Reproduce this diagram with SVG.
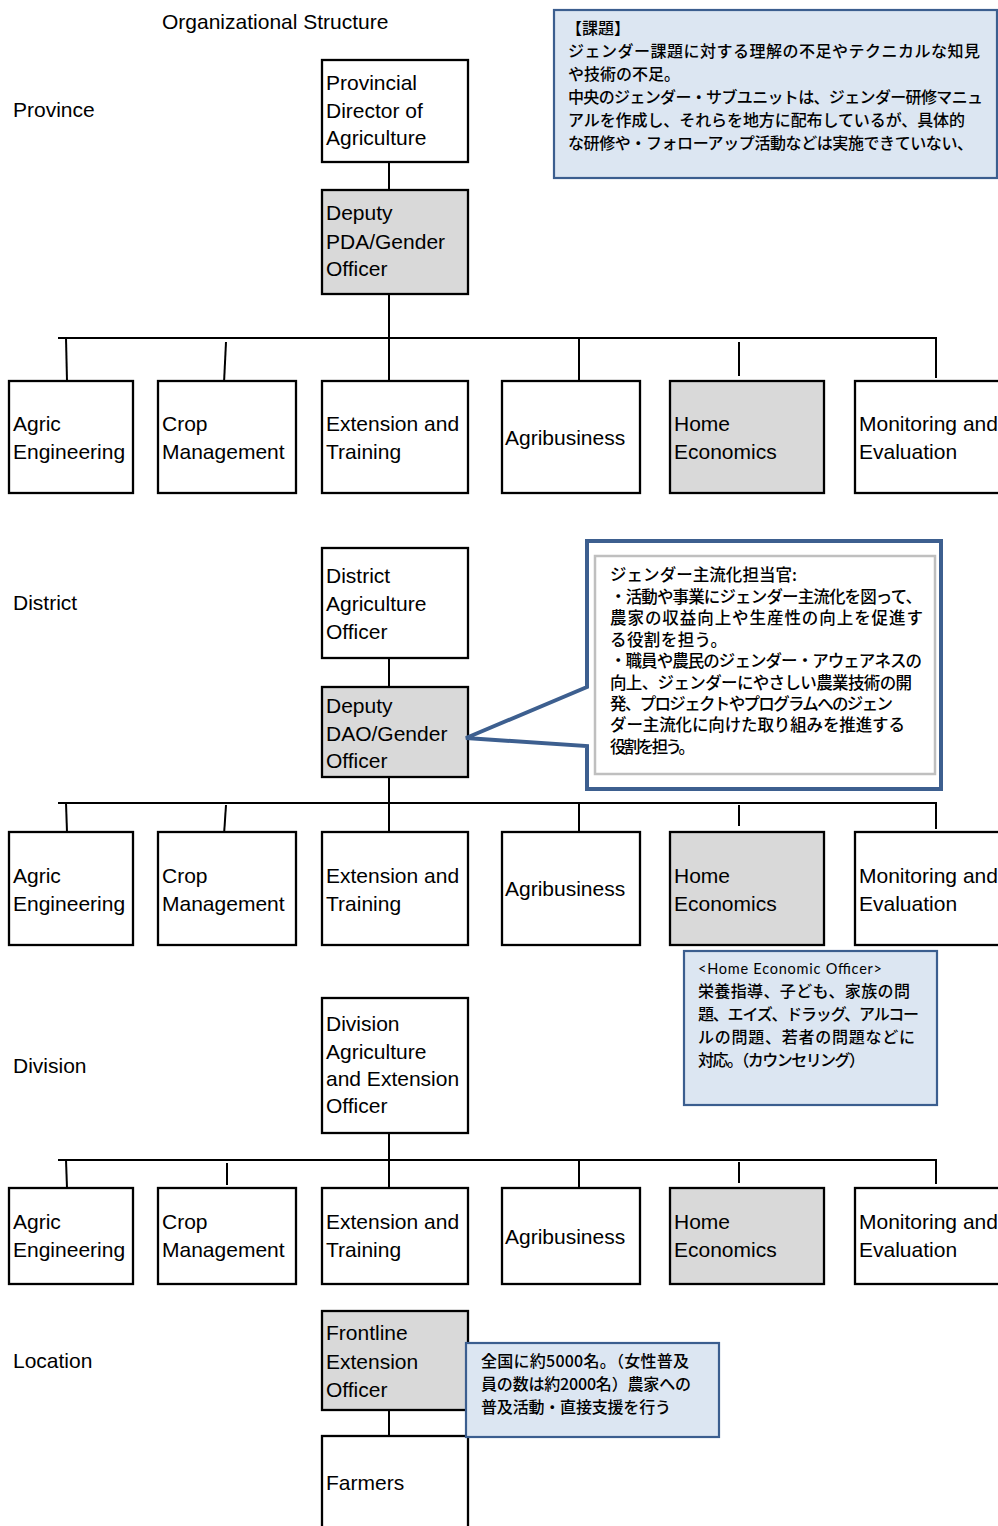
<svg xmlns="http://www.w3.org/2000/svg" width="998" height="1526" viewBox="0 0 998 1526">
<style>
.bg{fill:#fff}
.box{fill:#fff;stroke:#000;stroke-width:2.3}
.gray{fill:#d9d9d9}
.conn line{stroke:#000;stroke-width:2}
.lbl{font-family:"Liberation Sans",Arial,sans-serif;font-size:21px;fill:#000}
.jp{font-family:"Noto Sans CJK JP",sans-serif;font-size:16px;font-weight:500;fill:#000}
.jp2{font-family:"Noto Sans CJK JP",sans-serif;font-size:16.5px;font-weight:500;fill:#000}
.lat{font-family:Lato,"Open Sans",sans-serif;font-size:14.5px;fill:#000}
.note{fill:#dce6f2;stroke:#3b5e8f;stroke-width:2.2}
</style>
<rect class="bg" x="0" y="0" width="998" height="1526"/>

<text class="lbl" x="162" y="29">Organizational Structure</text>
<text class="lbl" x="13" y="117">Province</text>
<text class="lbl" x="13" y="610">District</text>
<text class="lbl" x="13" y="1073">Division</text>
<text class="lbl" x="13" y="1368">Location</text>

<g id="connectors" class="conn">
  <line x1="389" y1="162" x2="389" y2="190"/>
  <line x1="389" y1="294" x2="389" y2="381"/>
  <line x1="58" y1="338" x2="937" y2="338"/>
  <line x1="66" y1="338" x2="67" y2="381"/>
  <line x1="226" y1="342" x2="224" y2="383"/>
  <line x1="579" y1="338" x2="579" y2="383"/>
  <line x1="739" y1="342" x2="739" y2="376"/>
  <line x1="936" y1="338" x2="936" y2="378"/>

  <line x1="389" y1="658" x2="389" y2="687"/>
  <line x1="389" y1="777" x2="389" y2="832"/>
  <line x1="58" y1="803" x2="937" y2="803"/>
  <line x1="66" y1="803" x2="67" y2="832"/>
  <line x1="226" y1="805" x2="224" y2="835"/>
  <line x1="579" y1="803" x2="579" y2="834"/>
  <line x1="739" y1="805" x2="739" y2="826"/>
  <line x1="936" y1="803" x2="936" y2="829"/>

  <line x1="389" y1="1133" x2="389" y2="1188"/>
  <line x1="58" y1="1160" x2="937" y2="1160"/>
  <line x1="66" y1="1160" x2="67" y2="1188"/>
  <line x1="227" y1="1163" x2="227" y2="1185"/>
  <line x1="579" y1="1160" x2="579" y2="1190"/>
  <line x1="739" y1="1162" x2="739" y2="1183"/>
  <line x1="936" y1="1160" x2="936" y2="1184"/>

  <line x1="389" y1="1410" x2="389" y2="1436"/>
</g>

<!-- Province -->
<g id="pda">
  <rect class="box" x="322" y="60" width="146" height="102"/>
  <text class="lbl" x="326" y="90">Provincial</text>
  <text class="lbl" x="326" y="118">Director of</text>
  <text class="lbl" x="326" y="145">Agriculture</text>
</g>
<g id="deputy-pda">
  <rect class="box gray" x="322" y="190" width="146" height="104"/>
  <text class="lbl" x="326" y="220">Deputy</text>
  <text class="lbl" x="326" y="249">PDA/Gender</text>
  <text class="lbl" x="326" y="276">Officer</text>
</g>
<g id="p-agric">
  <rect class="box" x="9" y="381" width="124" height="112"/>
  <text class="lbl" x="13" y="431">Agric</text>
  <text class="lbl" x="13" y="459">Engineering</text>
</g>
<g id="p-crop">
  <rect class="box" x="158" y="381" width="138" height="112"/>
  <text class="lbl" x="162" y="431">Crop</text>
  <text class="lbl" x="162" y="459">Management</text>
</g>
<g id="p-ext">
  <rect class="box" x="322" y="381" width="146" height="112"/>
  <text class="lbl" x="326" y="431">Extension and</text>
  <text class="lbl" x="326" y="459">Training</text>
</g>
<g id="p-agribiz">
  <rect class="box" x="502" y="381" width="138" height="112"/>
  <text class="lbl" x="505" y="445">Agribusiness</text>
</g>
<g id="p-home">
  <rect class="box gray" x="670" y="381" width="154" height="112"/>
  <text class="lbl" x="674" y="431">Home</text>
  <text class="lbl" x="674" y="459">Economics</text>
</g>
<g id="p-me">
  <rect class="box" x="855" y="381" width="160" height="112"/>
  <text class="lbl" x="859" y="431">Monitoring and</text>
  <text class="lbl" x="859" y="459">Evaluation</text>
</g>

<!-- District -->
<g id="dao">
  <rect class="box" x="322" y="548" width="146" height="110"/>
  <text class="lbl" x="326" y="583">District</text>
  <text class="lbl" x="326" y="611">Agriculture</text>
  <text class="lbl" x="326" y="639">Officer</text>
</g>
<g id="deputy-dao">
  <rect class="box gray" x="322" y="687" width="146" height="90"/>
  <text class="lbl" x="326" y="713">Deputy</text>
  <text class="lbl" x="326" y="741">DAO/Gender</text>
  <text class="lbl" x="326" y="768">Officer</text>
</g>
<g id="d-agric">
  <rect class="box" x="9" y="832" width="124" height="113"/>
  <text class="lbl" x="13" y="883">Agric</text>
  <text class="lbl" x="13" y="911">Engineering</text>
</g>
<g id="d-crop">
  <rect class="box" x="158" y="832" width="138" height="113"/>
  <text class="lbl" x="162" y="883">Crop</text>
  <text class="lbl" x="162" y="911">Management</text>
</g>
<g id="d-ext">
  <rect class="box" x="322" y="832" width="146" height="113"/>
  <text class="lbl" x="326" y="883">Extension and</text>
  <text class="lbl" x="326" y="911">Training</text>
</g>
<g id="d-agribiz">
  <rect class="box" x="502" y="832" width="138" height="113"/>
  <text class="lbl" x="505" y="896">Agribusiness</text>
</g>
<g id="d-home">
  <rect class="box gray" x="670" y="832" width="154" height="113"/>
  <text class="lbl" x="674" y="883">Home</text>
  <text class="lbl" x="674" y="911">Economics</text>
</g>
<g id="d-me">
  <rect class="box" x="855" y="832" width="160" height="113"/>
  <text class="lbl" x="859" y="883">Monitoring and</text>
  <text class="lbl" x="859" y="911">Evaluation</text>
</g>

<!-- Division -->
<g id="daeo">
  <rect class="box" x="322" y="998" width="146" height="135"/>
  <text class="lbl" x="326" y="1031">Division</text>
  <text class="lbl" x="326" y="1059">Agriculture</text>
  <text class="lbl" x="326" y="1086">and Extension</text>
  <text class="lbl" x="326" y="1113">Officer</text>
</g>
<g id="v-agric">
  <rect class="box" x="9" y="1188" width="124" height="96"/>
  <text class="lbl" x="13" y="1229">Agric</text>
  <text class="lbl" x="13" y="1257">Engineering</text>
</g>
<g id="v-crop">
  <rect class="box" x="158" y="1188" width="138" height="96"/>
  <text class="lbl" x="162" y="1229">Crop</text>
  <text class="lbl" x="162" y="1257">Management</text>
</g>
<g id="v-ext">
  <rect class="box" x="322" y="1188" width="146" height="96"/>
  <text class="lbl" x="326" y="1229">Extension and</text>
  <text class="lbl" x="326" y="1257">Training</text>
</g>
<g id="v-agribiz">
  <rect class="box" x="502" y="1188" width="138" height="96"/>
  <text class="lbl" x="505" y="1244">Agribusiness</text>
</g>
<g id="v-home">
  <rect class="box gray" x="670" y="1188" width="154" height="96"/>
  <text class="lbl" x="674" y="1229">Home</text>
  <text class="lbl" x="674" y="1257">Economics</text>
</g>
<g id="v-me">
  <rect class="box" x="855" y="1188" width="160" height="96"/>
  <text class="lbl" x="859" y="1229">Monitoring and</text>
  <text class="lbl" x="859" y="1257">Evaluation</text>
</g>

<!-- Location -->
<g id="feo">
  <rect class="box gray" x="322" y="1311" width="146" height="99"/>
  <text class="lbl" x="326" y="1340">Frontline</text>
  <text class="lbl" x="326" y="1369">Extension</text>
  <text class="lbl" x="326" y="1397">Officer</text>
</g>
<g id="farmers">
  <rect class="box" x="322" y="1436" width="146" height="110"/>
  <text class="lbl" x="326" y="1490">Farmers</text>
</g>

<!-- Notes -->
<g id="note-issues">
  <rect class="note" x="554" y="10" width="443" height="168"/>
  <text class="jp" x="566" y="34">【課題】</text>
  <text class="jp" x="568" y="57" textLength="412" lengthAdjust="spacing">ジェンダー課題に対する理解の不足やテクニカルな知見</text>
  <text class="jp" x="568" y="80">や技術の不足。</text>
  <text class="jp" x="568" y="103" textLength="415" lengthAdjust="spacing">中央のジェンダー・サブユニットは、ジェンダー研修マニュ</text>
  <text class="jp" x="568" y="126" textLength="397" lengthAdjust="spacing">アルを作成し、それらを地方に配布しているが、具体的</text>
  <text class="jp" x="568" y="149" textLength="405" lengthAdjust="spacing">な研修や・フォローアップ活動などは実施できていない、</text>
</g>

<g id="note-gender">
  <path d="M587,541 H941 V789 H587 V746 L466,738 L587,687 Z" fill="#fff" stroke="#3d5f8f" stroke-width="4" stroke-linejoin="miter"/>
  <rect x="595" y="556" width="340" height="218" fill="#fff" stroke="#bfbfbf" stroke-width="2.5"/>
  <text class="jp2" x="610" y="581" textLength="187" lengthAdjust="spacing">ジェンダー主流化担当官:</text>
  <text class="jp2" x="610" y="603" textLength="312" lengthAdjust="spacing">・活動や事業にジェンダー主流化を図って、</text>
  <text class="jp2" x="610" y="624" textLength="313" lengthAdjust="spacing">農家の収益向上や生産性の向上を促進す</text>
  <text class="jp2" x="610" y="646" textLength="117" lengthAdjust="spacing">る役割を担う。</text>
  <text class="jp2" x="610" y="667" textLength="312" lengthAdjust="spacing">・職員や農民のジェンダー・アウェアネスの</text>
  <text class="jp2" x="610" y="689" textLength="302" lengthAdjust="spacing">向上、ジェンダーにやさしい農業技術の開</text>
  <text class="jp2" x="610" y="710" textLength="283" lengthAdjust="spacing">発、プロジェクトやプログラムへのジェン</text>
  <text class="jp2" x="610" y="731" textLength="295" lengthAdjust="spacing">ダー主流化に向けた取り組みを推進する</text>
  <text class="jp2" x="610" y="753" textLength="85" lengthAdjust="spacing">役割を担う。</text>
</g>

<g id="note-home">
  <rect class="note" x="684" y="951" width="253" height="154"/>
  <text class="lat" x="698" y="974" textLength="184" lengthAdjust="spacing">&lt;Home Economic Officer&gt;</text>
  <text class="jp" x="698" y="997" textLength="212" lengthAdjust="spacing">栄養指導、子ども、家族の問</text>
  <text class="jp" x="698" y="1020" textLength="221" lengthAdjust="spacing">題、エイズ、ドラッグ、アルコー</text>
  <text class="jp" x="698" y="1043" textLength="217" lengthAdjust="spacing">ルの問題、若者の問題などに</text>
  <text class="jp" x="698" y="1066" textLength="167" lengthAdjust="spacing">対応。（カウンセリング）</text>
</g>

<g id="note-feo">
  <rect class="note" x="466" y="1343" width="253" height="94"/>
  <text class="jp" x="481" y="1367" textLength="208" lengthAdjust="spacing">全国に約5000名。（女性普及</text>
  <text class="jp" x="481" y="1390" textLength="210" lengthAdjust="spacing">員の数は約2000名）農家への</text>
  <text class="jp" x="481" y="1413" textLength="190" lengthAdjust="spacing">普及活動・直接支援を行う</text>
</g>
</svg>
